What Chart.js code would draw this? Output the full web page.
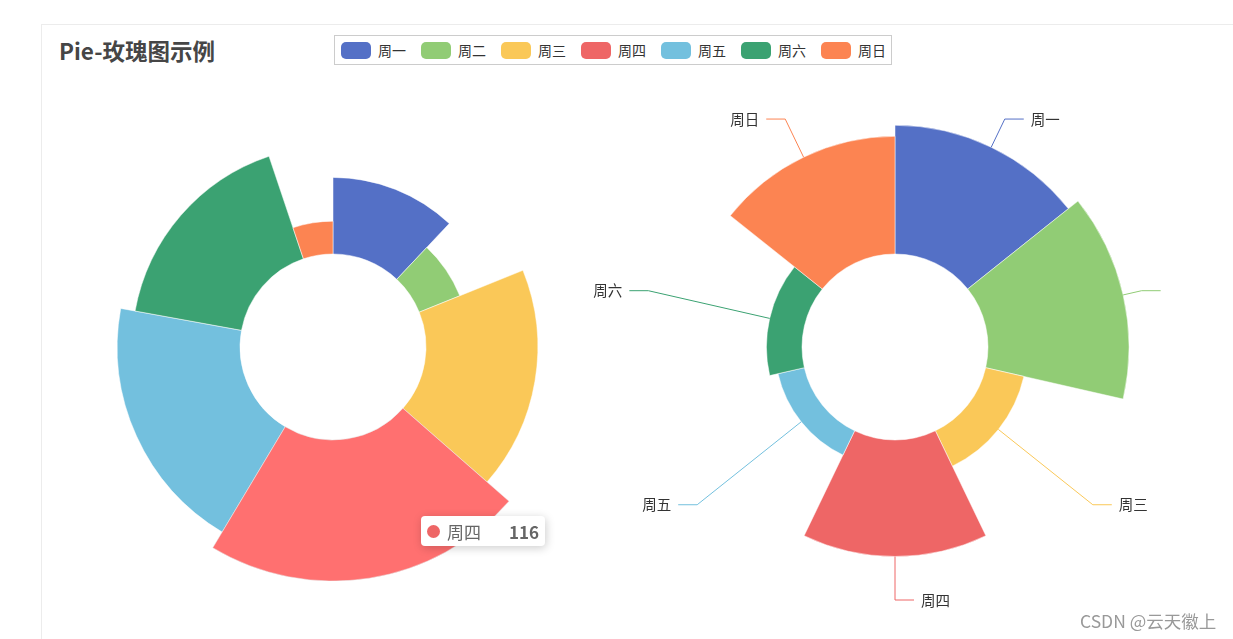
<!DOCTYPE html>
<html>
<head>
<meta charset="utf-8">
<script src="https://cdn.jsdelivr.net/npm/chart.js@4.4.0/dist/chart.umd.min.js"></script>
<style>
html, body { margin: 0; padding: 0; background: #fff; width: 1233px; height: 639px; overflow: hidden;
  font-family: "Noto Sans CJK SC", "Noto Sans", sans-serif; }
#marco { position: absolute; left: 41px; top: 24px; width: 1300px; height: 700px;
  border-top: 1px solid #ececec; border-left: 1px solid #ececec; }
#titulo { position: absolute; left: 59px; top: 33px; font-size: 22.5px; font-weight: bold; color: #464646; line-height: 34px; }
#leyenda { position: absolute; left: 334px; top: 35px; height: 28px; border: 1px solid #ccc;
  display: flex; align-items: center; padding: 0 5px 0 6px; }
.item { display: flex; align-items: center; margin-right: 15px; font-size: 14px; color: #333; }
.item:last-child { margin-right: 0; }
.muestra { width: 30px; height: 17px; border-radius: 5px; margin-right: 7px; }
#izq { position: absolute; left: 99px; top: 113px; }
#derWrap { position: absolute; left: 580px; top: 90px; width: 581px; height: 540px; overflow: hidden; }
#tip { position: absolute; display: none; background: #fff; border-radius: 4px; height: 30px;
  box-shadow: 1px 2px 10px rgba(0,0,0,0.2); align-items: center; padding: 0 6px; font-size: 17px; color: #666; }
#tip .punto { width: 13px; height: 13px; border-radius: 50%; margin-right: 7px; }
#tip b { margin-left: 28px; }
#firma { position: absolute; left: 1080px; top: 608px; font-size: 17.5px; color: #999; }
</style>
</head>
<body>
<div id="marco"></div>
<div id="titulo">Pie-玫瑰图示例</div>
<div id="leyenda"></div>
<canvas id="izq" width="468" height="468"></canvas>
<div id="derWrap"><canvas id="der" width="581" height="540"></canvas></div>
<div id="tip"></div>
<div id="firma">CSDN @云天徽上</div>
<script>
// 数据
const categories = ['周一', '周二', '周三', '周四', '周五', '周六', '周日'];
const colors = ['#5470c6', '#91cc75', '#fac858', '#ee6666', '#73c0de', '#3ba272', '#fc8452'];
const hoverColors = ['#5c7bd9', '#9fe080', '#ffdc60', '#ff7070', '#7ed3f4', '#40b27d', '#ff9160'];
const radiusValues = [63, 36, 92, 116, 101, 89, 27];   // 左：半径模式
const areaValues = [105, 115, 32, 95, 22, 29, 96];     // 右：面积模式

const HUECO = 93 / 234; // 内半径 / 外半径

Chart.defaults.font.family = '"Noto Sans CJK SC", "Noto Sans", sans-serif';

// 图例
const leyenda = document.getElementById('leyenda');
categories.forEach((nombre, i) => {
    const item = document.createElement('div');
    item.className = 'item';
    item.innerHTML = `<span class="muestra" style="background:${colors[i]}"></span>${nombre}`;
    leyenda.appendChild(item);
});

// 半径轴：0 对应内圆
function escala(valores) {
    const max = Math.max(...valores);
    return {
        r: {
            min: -max * HUECO / (1 - HUECO),
            max: max,
            ticks: { display: false },
            grid: { display: false },
            angleLines: { display: false },
            pointLabels: { display: false }
        }
    };
}

// 挖空中心
const hueco = {
    id: 'hueco',
    afterDatasetUpdate(chart, args) {
        const r0 = chart.scales.r.getDistanceFromCenterForValue(0);
        args.meta.data.forEach(arc => { arc.innerRadius = r0; });
    }
};

// 右图标签与引导线
const etiquetas = {
    id: 'etiquetas',
    afterDatasetsDraw(chart) {
        const c = chart.ctx;
        const rMax = chart.scales.r.drawingArea;
        chart.getDatasetMeta(0).data.forEach((arc, i) => {
            const a = (arc.startAngle + arc.endAngle) / 2;
            const cos = Math.cos(a), sin = Math.sin(a);
            const x0 = arc.x + cos * arc.outerRadius, y0 = arc.y + sin * arc.outerRadius;
            const x1 = arc.x + cos * (rMax + 19), y1 = arc.y + sin * (rMax + 19);
            const dir = cos >= -1e-6 ? 1 : -1;
            const x2 = x1 + dir * 19;
            c.save();
            c.strokeStyle = colors[i];
            c.lineWidth = 1;
            c.beginPath();
            c.moveTo(x0, y0);
            c.lineTo(x1, y1);
            c.lineTo(x2, y1);
            c.stroke();
            c.fillStyle = '#333';
            c.font = '14.5px "Noto Sans CJK SC", sans-serif';
            c.textAlign = dir > 0 ? 'left' : 'right';
            c.textBaseline = 'middle';
            c.fillText(categories[i], x2 + dir * 7, y1);
            c.restore();
        });
    }
};

// 提示框位置跟随指针
Chart.Tooltip.positioners.puntero = function (items, eventPosition) {
    return eventPosition ? { x: eventPosition.x, y: eventPosition.y } : false;
};

function tooltipExterno(context) {
    const tip = document.getElementById('tip');
    const t = context.tooltip;
    if (t.opacity === 0 || !t.dataPoints || !t.dataPoints.length) {
        tip.style.display = 'none';
        return;
    }
    const dp = t.dataPoints[0];
    tip.innerHTML = `<span class="punto" style="background:${colors[dp.dataIndex]}"></span>${dp.label}<b>${dp.raw}</b>`;
    const canvas = context.chart.canvas;
    tip.style.display = 'flex';
    tip.style.left = (canvas.offsetLeft + t.caretX) + 'px';
    tip.style.top = (canvas.offsetTop + t.caretY - 15) + 'px';
}

const total = radiusValues.reduce((s, v) => s + v, 0);

const izq = new Chart(document.getElementById('izq'), {
    type: 'polarArea',
    data: {
        labels: categories,
        datasets: [{
            data: radiusValues,
            backgroundColor: colors,
            hoverBackgroundColor: hoverColors,
            borderColor: '#fff',
            borderWidth: 0.5,
            hoverBorderWidth: 0.5,
            angle: ctx => radiusValues[ctx.dataIndex] / total * 360
        }]
    },
    options: {
        responsive: false,
        animation: false,
        layout: { padding: 0 },
        scales: escala(radiusValues),
        plugins: {
            legend: { display: false },
            tooltip: { enabled: false, position: 'puntero', external: tooltipExterno }
        }
    },
    plugins: [hueco]
});

const der = new Chart(document.getElementById('der'), {
    type: 'polarArea',
    data: {
        labels: categories,
        datasets: [{
            data: areaValues,
            backgroundColor: colors,
            hoverBackgroundColor: colors,
            borderColor: '#fff',
            borderWidth: 0.5
        }]
    },
    options: {
        responsive: false,
        animation: false,
        events: [],
        layout: { padding: { left: 81, right: 32, top: 23, bottom: 49 } },
        scales: escala(areaValues),
        plugins: {
            legend: { display: false },
            tooltip: { enabled: false }
        }
    },
    plugins: [hueco, etiquetas]
});

// 左图：悬停 周四
const activo = [{ datasetIndex: 0, index: 3 }];
izq.setActiveElements(activo);
izq.tooltip.setActiveElements(activo, { x: 322, y: 418 });
izq.draw();
</script>
</body>
</html>
